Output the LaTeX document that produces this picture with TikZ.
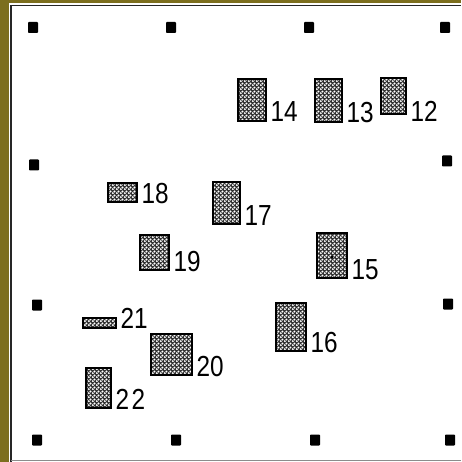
\documentclass[tikz,border=0pt]{standalone}
\usepackage{fontspec}
\setmainfont{Liberation Sans}
\usetikzlibrary{patterns}

\pgfdeclarepatternformonly{boxdots}{\pgfpointorigin}{\pgfqpoint{4pt}{4pt}}{\pgfqpoint{4pt}{4pt}}{%
  \pgfpathcircle{\pgfqpoint{1pt}{1pt}}{1.3pt}%
  \pgfpathcircle{\pgfqpoint{3pt}{3pt}}{1.3pt}%
  \pgfusepath{fill}}
\definecolor{frameolive}{RGB}{124,110,30}

\tikzset{
  pad/.style={draw=black, line width=2.2pt, preaction={fill=black!80},
    pattern=boxdots, pattern color=white, inner sep=0pt},
  num/.style={anchor=base west, inner sep=0pt, xshift=3.5pt, xscale=0.84,
    font=\fontsize{29}{29}\selectfont},
  corner/.style={fill=black, rounded corners=0.8pt}
}

\begin{document}
\begin{tikzpicture}[x=1pt,y=-1pt]
\useasboundingbox (0,0) rectangle (461,462);
% frame
\fill[frameolive] (0,0) rectangle (9,462);
\fill[frameolive] (0,0) rectangle (461,3.5);
\draw[line width=1.4pt, black!85] (11,462) -- (11,5.5) -- (461,5.5);
\draw[line width=1.2pt, black!45] (11,460.5) -- (461,460.5);
% corner marks
\foreach \x/\y in {33/27.5,171/27.5,309/27.5,445/27.5,
                   34/165,447/161,
                   37/305,448/304,
                   37/440,176/440,315/440,450/440}
  \fill[corner] (\x-5,\y-5.5) rectangle (\x+5,\y+5.5);
% pads
\node[pad, minimum width=27.8pt, minimum height=41.8pt] (p14) at (252,100) {};
\node[pad, minimum width=26.8pt, minimum height=42.8pt] (p13) at (328.5,100.5) {};
\node[pad, minimum width=24.8pt, minimum height=35.8pt] (p12) at (393.5,96) {};
\node[pad, minimum width=28.8pt, minimum height=18.8pt] (p18) at (122.5,192.5) {};
\node[pad, minimum width=26.8pt, minimum height=41.8pt] (p17) at (226.5,203) {};
\node[pad, minimum width=28.8pt, minimum height=34.8pt] (p19) at (154.5,252.5) {};
\node[pad, minimum width=29.8pt, minimum height=44.8pt] (p15) at (332,255.5) {};
\node[pad, minimum width=32.8pt, minimum height=9.5pt] (p21) at (99.5,323) {};
\node[pad, minimum width=29.8pt, minimum height=47.8pt] (p16) at (291,327) {};
\node[pad, minimum width=40.8pt, minimum height=40.8pt] (p20) at (171.5,354.5) {};
\node[pad, minimum width=24.8pt, minimum height=39.8pt] (p22) at (98.5,388) {};
\fill (332,257) circle (1.6);
% labels
\node[num] (l14) at (p14.south east) {14};
\node[num] (l13) at (p13.south east) {13};
\node[num, yshift=-7pt] (l12) at (p12.south east) {12};
\node[num] (l18) at (p18.south east) {18};
\node[num] (l17) at (p17.south east) {17};
\node[num] (l19) at (p19.south east) {19};
\node[num] (l15) at (p15.south east) {15};
\node[num] (l21) at (p21.south east) {21};
\node[num] (l16) at (p16.south east) {16};
\node[num] (l20) at (p20.south east) {20};
\node[num] (l22) at (p22.south east) {2\kern3pt 2};
\end{tikzpicture}
\end{document}
